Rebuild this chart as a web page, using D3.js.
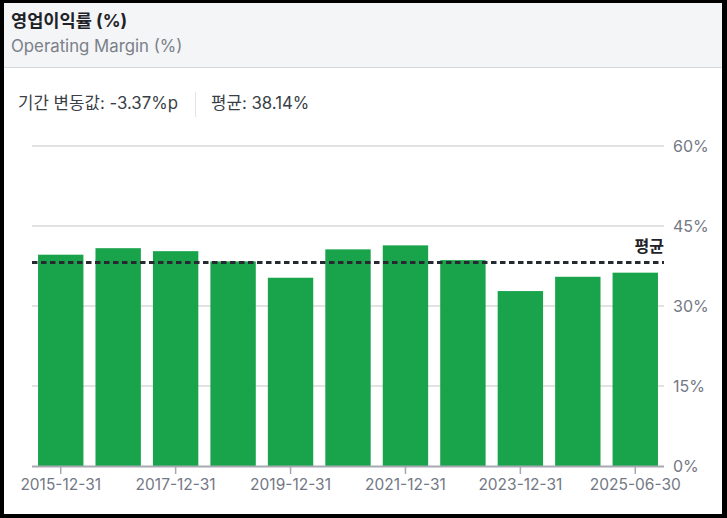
<!DOCTYPE html>
<html><head><meta charset="utf-8">
<script src="https://cdn.jsdelivr.net/npm/d3@7"></script>
<style>
html,body{margin:0;padding:0;background:#000;}
svg{display:block;}
</style></head>
<body>
<svg id="c" width="727" height="518"></svg>
<script>
const categories = ["2015-12-31","2016-12-31","2017-12-31","2018-12-31","2019-12-31","2020-12-31","2021-12-31","2022-12-31","2023-12-31","2024-12-31","2025-06-30"];
const margins = [39.62, 40.84, 40.28, 38.36, 35.30, 40.62, 41.37, 38.60, 32.80, 35.48, 36.25];
const averageValue = [38.14];
const yTicks = [0, 15, 30, 45, 60];
const xTickLabels = ["2015-12-31","2017-12-31","2019-12-31","2021-12-31","2023-12-31","2025-06-30"];
const titleText = "영업이익률 (%)";
const subtitleText = "Operating Margin (%)";
const statChange = "기간 변동값: -3.37%p";
const statAvg = "평균: 38.14%";
const avgLabel = "평균";

const FONT = "Inter, 'Noto Sans CJK KR', sans-serif";
const svg = d3.select("#c");

// card
svg.append("rect").attr("x",4).attr("y",3).attr("width",718).attr("height",511).attr("fill","#fff");
svg.append("rect").attr("x",4).attr("y",3).attr("width",718).attr("height",64).attr("fill","#f4f5f7");
svg.append("line").attr("x1",4).attr("x2",722).attr("y1",67.5).attr("y2",67.5).attr("stroke","#d6d8dc").attr("stroke-width",1);

svg.append("text").attr("x",11).attr("y",27).attr("font-family",FONT).attr("font-size",17.6).attr("font-weight",700).attr("fill","#1f2328").text(titleText);
svg.append("text").attr("x",11).attr("y",52).attr("font-family",FONT).attr("font-size",16.8).attr("fill","#7b8089").text(subtitleText);

svg.append("text").attr("x",18).attr("y",109).attr("font-family",FONT).attr("font-size",16.8).attr("fill","#3a3f47").text(statChange);
svg.append("line").attr("x1",195.5).attr("x2",195.5).attr("y1",92).attr("y2",117).attr("stroke","#e1e3e6");
svg.append("text").attr("x",211).attr("y",109).attr("font-family",FONT).attr("font-size",16.8).attr("fill","#3a3f47").text(statAvg);

// scales
const x = d3.scaleBand().domain(categories).range([32,664]).paddingInner(0.21).paddingOuter(0.105);
const y = d3.scaleLinear().domain([0,60]).range([466,146]);

// grid
const grid = svg.append("g");
grid.selectAll("line").data(yTicks.filter(d=>d>0)).join("line")
  .attr("x1",32).attr("x2",664).attr("y1",d=>y(d)).attr("y2",d=>y(d))
  .attr("stroke","#d9d9d9").attr("stroke-width",1.5);

// y labels (right)
const yAxis = d3.axisRight(y).tickValues(yTicks).tickSize(0).tickPadding(0).tickFormat(d=>d+"%");
const ya = svg.append("g").attr("transform","translate(673,0)").call(yAxis);
ya.select(".domain").remove();
ya.selectAll("text").attr("font-family",FONT).attr("font-size",16).attr("fill","#737884").attr("dy","0.35em");

// bars
svg.append("g").selectAll("rect").data(margins).join("rect")
  .attr("x",(d,i)=>x(categories[i])).attr("width",x.bandwidth())
  .attr("y",d=>y(d)).attr("height",d=>y(0)-y(d)).attr("fill","#19a44c");

// x axis
const xAxis = d3.axisBottom(x).tickValues(xTickLabels).tickSize(8).tickPadding(5);
const xa = svg.append("g").attr("transform","translate(0,466)").call(xAxis);
xa.select(".domain").attr("d","M32,0.5H664").attr("stroke","#a6a9b1").attr("stroke-width",2);
xa.selectAll(".tick line").attr("stroke","#a6a9b1").attr("stroke-width",1.5);
xa.selectAll("text").attr("font-family",FONT).attr("font-size",15.5).attr("fill","#737884");

// average line
svg.append("g").selectAll("line").data(averageValue).join("line")
  .attr("x1",32).attr("x2",664).attr("y1",d=>y(d)).attr("y2",d=>y(d))
  .attr("stroke","#262a30").attr("stroke-width",3).attr("stroke-dasharray","5.5,3.5");
svg.append("g").selectAll("text").data(averageValue).join("text")
  .attr("x",664).attr("y",d=>y(d)-11).attr("text-anchor","end")
  .attr("font-family",FONT).attr("font-size",16).attr("font-weight",700).attr("fill","#1f2328").text(avgLabel);
</script>
</body></html>
